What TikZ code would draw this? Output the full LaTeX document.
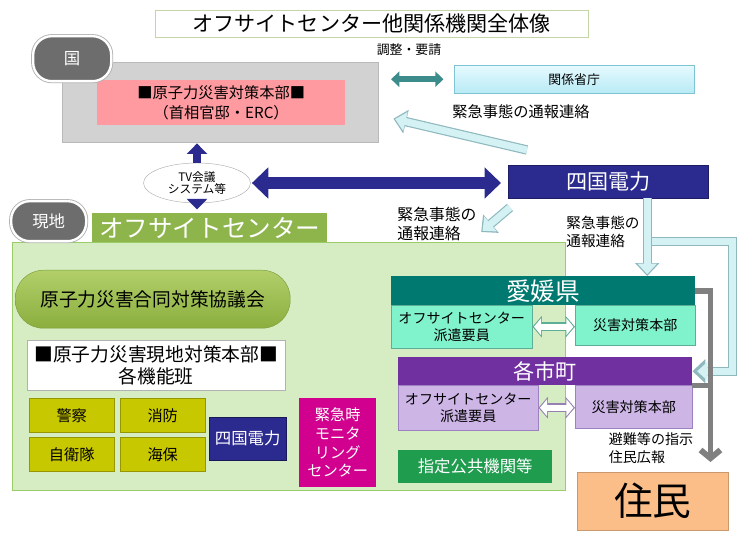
\documentclass[tikz,border=0pt]{standalone}
\usepackage{fontspec}
\setmainfont{Noto Sans CJK JP}
\usetikzlibrary{shapes.geometric,arrows.meta,calc}
\newcommand{\pix}{0.03cm}
\newcommand{\fsz}[2]{\fontsize{#1}{#2}\selectfont}

\definecolor{pinkbox}{HTML}{FF9AA0}
\definecolor{pillgray}{HTML}{6D6D6D}
\definecolor{titleline}{HTML}{C5D5A5}
\definecolor{kankeitop}{HTML}{E6FAFE}
\definecolor{kankeibot}{HTML}{B8EAF5}
\definecolor{kankeiline}{HTML}{80C4D4}
\definecolor{navy}{HTML}{2B2A8F}
\definecolor{tealarrow}{HTML}{3D8C8C}
\definecolor{cyanfill}{HTML}{D4F1F4}
\definecolor{cyanline}{HTML}{8FB8BE}
\definecolor{oscfill}{HTML}{D6EDC4}
\definecolor{oscline}{HTML}{9ACD6A}
\definecolor{oscgreen}{HTML}{8DB54C}
\definecolor{goudoutop}{HTML}{B2CF6A}
\definecolor{goudoubot}{HTML}{8AAE3E}
\definecolor{goudouline}{HTML}{7E9E3A}
\definecolor{yellowbox}{HTML}{C8C800}
\definecolor{magentabox}{HTML}{D1008E}
\definecolor{ehimehead}{HTML}{007A70}
\definecolor{ehimebox}{HTML}{80F2CC}
\definecolor{ehimeline}{HTML}{5DAE96}
\definecolor{purplehead}{HTML}{7030A0}
\definecolor{lavender}{HTML}{CDB5E6}
\definecolor{lavline}{HTML}{9D80BF}
\definecolor{shiteigreen}{HTML}{1F9C4E}
\definecolor{juminbox}{HTML}{FBBE88}
\definecolor{grayarrow}{HTML}{808080}

\begin{document}
\begin{tikzpicture}[x=\pix, y=-\pix,
    box/.style={rectangle, anchor=north west, inner sep=0pt, align=center},
    pill/.style={box, draw=white, line width=2pt, rounded corners=16pt, fill=pillgray, text=white,
        preaction={draw=gray!60, line width=3.5pt}},
    ybox/.style={box, fill=yellowbox, draw=yellowbox!75!black, minimum width=85*\pix, minimum height=34*\pix, font=\fsz{13}{15}},
    lbl/.style={inner sep=0pt, align=left},
    bluearr/.style={draw=navy, line width=6pt, -{Triangle[length=9pt,width=17pt]}},
    bluewide/.style={draw=navy, line width=11pt, {Triangle[length=14pt,width=26pt]}-{Triangle[length=14pt,width=26pt]}},
    tealarr/.style={draw=tealarrow, line width=5pt, {Triangle[length=7pt,width=13pt]}-{Triangle[length=7pt,width=13pt]}},
    cyanarr/.style={draw=cyanfill, line width=6pt, -{Triangle[length=9pt,width=16pt]}, shorten >=1.5pt,
        preaction={draw=cyanline, line width=8pt, shorten >=0pt, -{Triangle[length=11pt,width=20pt]}}},
    grayarr/.style={draw=grayarrow, line width=5pt},
    hollow/.style={draw=white, line width=5pt, {Triangle[length=6pt,width=14pt]}-{Triangle[length=6pt,width=14pt]},
        shorten >=1.3pt, shorten <=1.3pt,
        preaction={draw=#1, line width=7.5pt, shorten >=0pt, shorten <=0pt,
            {Triangle[length=8pt,width=18pt]}-{Triangle[length=8pt,width=18pt]}}}]
    \useasboundingbox (0,0) rectangle (750,539);

    % Title
    \node[box, draw=titleline, minimum width=433*\pix, minimum height=27*\pix, font=\fsz{18}{20}] (title) at (155,10) {オフサイトセンター他関係機関全体像};

    % Kuni
    \node[box, draw=gray!55, fill=gray!35, line width=1.2pt, minimum width=316*\pix, minimum height=80*\pix] (kuni-box) at (62,62) {};
    \node[box, fill=pinkbox, minimum width=248*\pix, minimum height=45*\pix, font=\fsz{13}{17}] (honbu) at (97,80) {■原子力災害対策本部■\\（首相官邸・ERC）};
    \node[pill, minimum width=78*\pix, minimum height=45*\pix, font=\fsz{14}{16}] (kuni) at (32,35) {国};

    \node[box, draw=kankeiline, top color=kankeitop, bottom color=kankeibot, minimum width=240*\pix, minimum height=28*\pix, font=\fsz{11}{13}] (kankei) at (454,65) {関係省庁};
    \node[lbl, font=\fsz{11}{13}] (chousei) at (409,50) {調整・要請};
    \node[lbl, font=\fsz{13}{16}] (tsuuhou-kuni) at (521,112) {緊急事態の通報連絡};

    \node[ellipse, draw=gray!60, fill=white, minimum width=107*\pix, minimum height=40*\pix, inner sep=0pt, align=center, font=\fsz{10}{11}] (tv) at (197,183) {TV会議\\システム等};
    \node[box, fill=navy, draw=navy!70!black, text=white, minimum width=200*\pix, minimum height=33*\pix, font=\fsz{18}{20}] (shikoku) at (508,165) {四国電力};

    \node[lbl, font=\fsz{13.5}{16}] (tsuuhou-osc) at (437,224) {緊急事態の\\通報連絡};
    \node[lbl, font=\fsz{12.5}{15}] (tsuuhou-ken) at (603,232) {緊急事態の\\通報連絡};

    % Genchi
    \node[box, draw=oscline, fill=oscfill, line width=1pt, minimum width=553*\pix, minimum height=248*\pix] (osc) at (12,242) {};
    \node[box, fill=oscgreen, text=white, minimum width=235*\pix, minimum height=29*\pix, font=\fsz{21}{22}] (osc-tab) at (92,213) {オフサイトセンター};
    \node[pill, minimum width=75*\pix, minimum height=40*\pix, font=\fsz{14}{16}] (genchi) at (10,200) {現地};

    \node[box, rounded corners=24pt, draw=goudouline, top color=goudoutop, bottom color=goudoubot, minimum width=275*\pix, minimum height=58*\pix, font=\fsz{16}{18}] (goudou) at (15,270) {原子力災害合同対策協議会};
    \node[box, draw=gray!60, fill=white, minimum width=258*\pix, minimum height=50*\pix, font=\fsz{16}{19}] (genchi-honbu) at (27,340) {■原子力災害現地対策本部■\\各機能班};

    \node[ybox] (keisatsu) at (29,398) {警察};
    \node[ybox] (shoubou) at (120,398) {消防};
    \node[ybox] (jieitai) at (29,437) {自衛隊};
    \node[ybox] (kaiho) at (120,437) {海保};
    \node[box, fill=navy, draw=navy!60!black, text=white, minimum width=77*\pix, minimum height=43*\pix, font=\fsz{14}{16}] (shikoku-genchi) at (209,417) {四国電力};
    \node[box, fill=magentabox, text=white, minimum width=77*\pix, minimum height=89*\pix, font=\fsz{13}{16}] (monitor) at (299,398) {緊急時\\モニタ\\リング\\センター};

    % Ehime
    \node[box, fill=ehimehead, text=white, minimum width=304*\pix, minimum height=29*\pix, font=\fsz{21}{23}] (ehime-head) at (391,276) {愛媛県};
    \node[box, fill=ehimebox, draw=ehimeline, minimum width=141*\pix, minimum height=43*\pix, font=\fsz{12}{14}] (ehime-osc) at (391,305) {オフサイトセンター\\派遣要員};
    \node[box, fill=ehimebox, draw=ehimeline, minimum width=120*\pix, minimum height=40*\pix, font=\fsz{12}{14}] (ehime-hq) at (575,305) {災害対策本部};

    % Shichou
    \node[box, fill=purplehead, text=white, minimum width=294*\pix, minimum height=28*\pix, font=\fsz{18}{20}] (shichou-head) at (398,357) {各市町};
    \node[box, fill=lavender, draw=lavline, minimum width=140*\pix, minimum height=45*\pix, font=\fsz{12}{14}] (shichou-osc) at (398,385) {オフサイトセンター\\派遣要員};
    \node[box, fill=lavender, draw=lavline, minimum width=117*\pix, minimum height=43*\pix, font=\fsz{12}{14}] (shichou-hq) at (575,385) {災害対策本部};

    \node[box, fill=shiteigreen, text=white, minimum width=154*\pix, minimum height=33*\pix, font=\fsz{14}{16}] (shitei) at (398,450) {指定公共機関等};

    \node[lbl, font=\fsz{12}{15}] (hinan) at (651,448) {避難等の指示\\住民広報};
    \node[box, fill=juminbox, draw=juminbox!80!black, minimum width=151*\pix, minimum height=58*\pix, font=\fsz{33}{36}] (jumin) at (577,472) {住民};

    % Arrows
    \draw[tealarr, shorten <=10pt, shorten >=9pt] (kuni-box.east |- kankei.west) -- (kankei.west);
    \draw[cyanarr] ($(shikoku.north west)+(19,-15)$) -- ($(kuni-box.east)+(14,16)$);
    \draw[bluearr] (tv.north) -- (tv.north |- kuni-box.south);
    \draw[bluearr, shorten >=3pt] (tv.south) -- (tv.south |- osc-tab.north);
    \draw[bluewide, shorten >=6pt, shorten <=1pt] (tv.east) -- (tv.east -| shikoku.west);
    \draw[cyanarr] ($(shikoku.south west)+(2,9)$) -- ($(osc.north east)+(-85,-10)$);

    \coordinate (kei-top) at ($(shikoku.south)+(39,0)$);
    \coordinate (kei-fork) at ($(kei-top)+(4,43)$);
    \coordinate (kei-corner) at ($(shichou-head.east)+(40,0)$);
    \draw[cyanarr, shorten >=4pt] (kei-fork) -| (kei-corner) -- (shichou-head.east);
    \draw[cyanarr] (kei-top) -- (kei-top |- ehime-head.north);

    \coordinate (hinan-end) at ($(jumin.north east)+(-18,-10)$);
    \draw[grayarr, -{Straight Barb[length=7pt,width=17pt]}] (ehime-head.east) -| (hinan-end);
    \draw[grayarr] (shichou-head.south east) -- (shichou-head.south east -| hinan-end);

    \draw[hollow=ehimeline] (ehime-osc.east) -- (ehime-osc.east -| ehime-hq.west);
    \draw[hollow=lavline!80!gray] (shichou-osc.east) -- (shichou-osc.east -| shichou-hq.west);

\end{tikzpicture}
\end{document}
